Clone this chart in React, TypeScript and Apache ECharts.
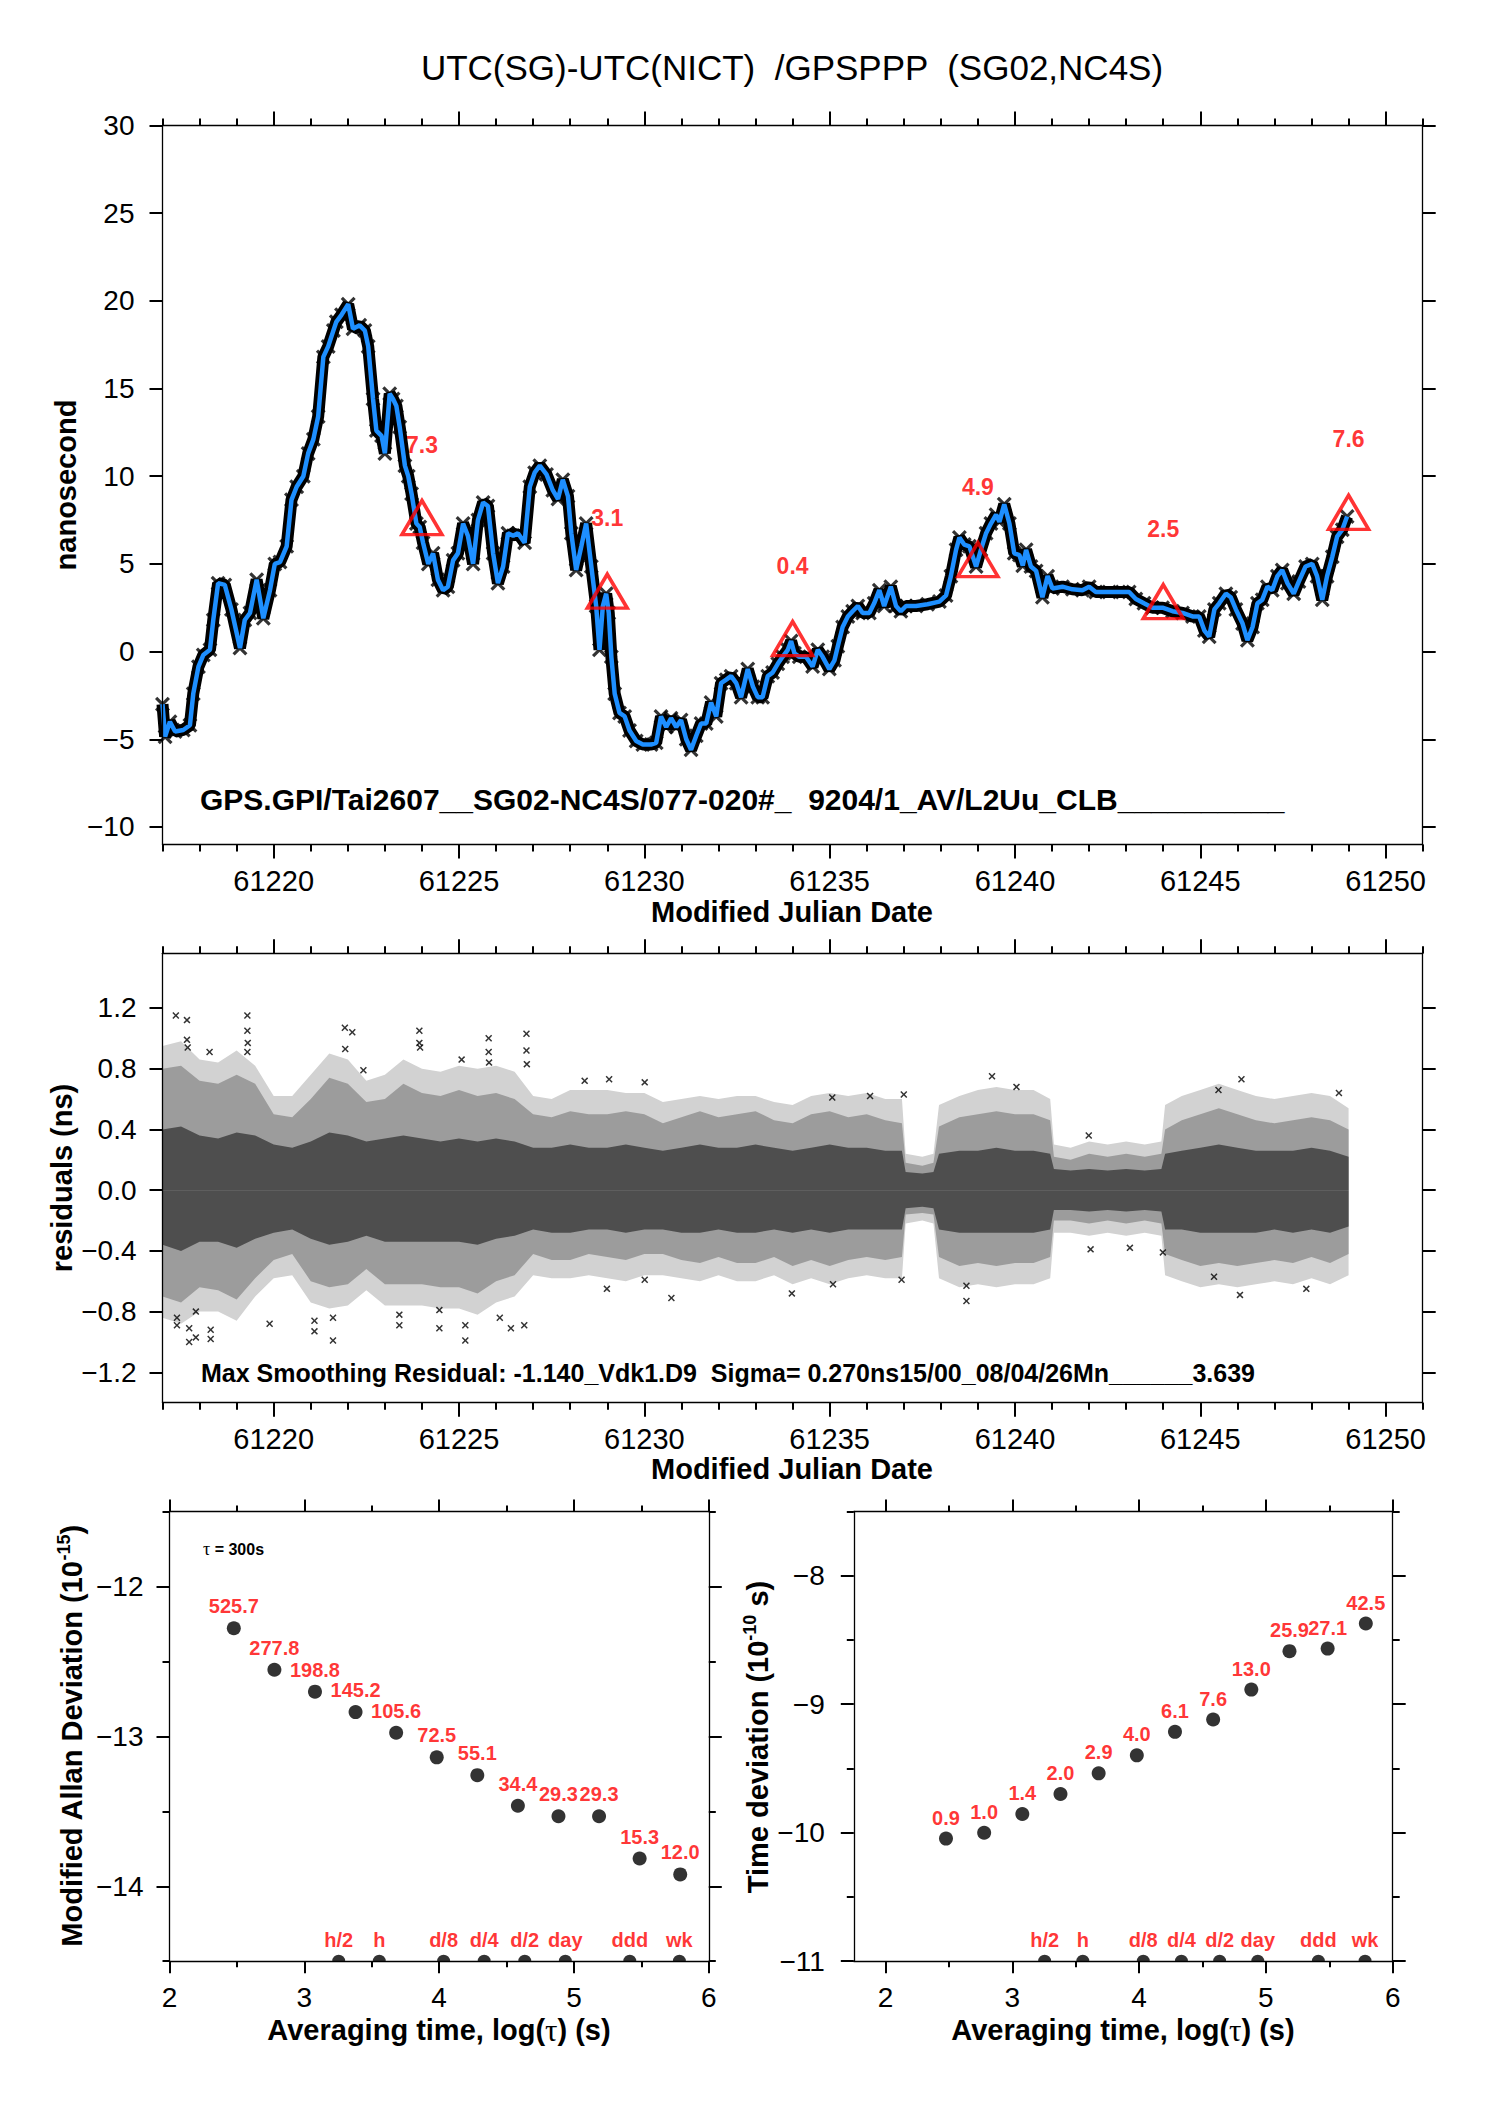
import React, { useEffect, useRef } from 'react';
import * as echarts from 'echarts';

const FONT = '"Liberation Sans", Arial, Helvetica, sans-serif';
const MINUS = '\u2212';
const RED = '#ff0000';
const BLUE = '#1e8fff';

// ---------- top panel: smoothed UTC(SG)-UTC(NICT) curve ----------
const topDays = [
  61217.00, 61217.07, 61217.20, 61217.34, 61217.56, 61217.74, 61217.83, 61217.97, 61218.10, 61218.28,
  61218.37, 61218.50, 61218.68, 61218.86, 61219.09, 61219.22, 61219.36, 61219.54, 61219.72, 61219.90,
  61220.03, 61220.17, 61220.35, 61220.48, 61220.62, 61220.80, 61220.93, 61221.07, 61221.20, 61221.34,
  61221.47, 61221.61, 61221.69, 61221.83, 61222.01, 61222.14, 61222.32, 61222.46, 61222.55, 61222.68,
  61222.77, 61222.91, 61223.00, 61223.13, 61223.22, 61223.31, 61223.40, 61223.54, 61223.63, 61223.72,
  61223.85, 61223.94, 61224.03, 61224.17, 61224.30, 61224.43, 61224.57, 61224.70, 61224.84, 61224.97,
  61225.11, 61225.24, 61225.38, 61225.51, 61225.65, 61225.78, 61225.92, 61226.05, 61226.19, 61226.32,
  61226.46, 61226.59, 61226.77, 61226.91, 61227.04, 61227.18, 61227.36, 61227.53, 61227.67, 61227.80,
  61227.94, 61228.03, 61228.16, 61228.30, 61228.43, 61228.57, 61228.70, 61228.79, 61228.88, 61228.97,
  61229.04, 61229.11, 61229.20, 61229.33, 61229.47, 61229.60, 61229.78, 61229.96, 61230.18, 61230.32,
  61230.45, 61230.59, 61230.72, 61230.86, 61230.99, 61231.13, 61231.26, 61231.40, 61231.53, 61231.67,
  61231.80, 61231.94, 61232.07, 61232.21, 61232.34, 61232.48, 61232.61, 61232.79, 61232.93, 61233.06,
  61233.19, 61233.33, 61233.46, 61233.60, 61233.73, 61233.87, 61233.96, 61234.05, 61234.18, 61234.36,
  61234.54, 61234.68, 61234.81, 61234.99, 61235.13, 61235.22, 61235.35, 61235.49, 61235.62, 61235.76,
  61235.89, 61236.07, 61236.20, 61236.34, 61236.47, 61236.65, 61236.79, 61236.92, 61237.06, 61237.33,
  61237.64, 61237.96, 61238.14, 61238.27, 61238.41, 61238.50, 61238.63, 61238.77, 61238.95, 61239.08,
  61239.22, 61239.35, 61239.49, 61239.58, 61239.71, 61239.85, 61239.98, 61240.12, 61240.21, 61240.30,
  61240.43, 61240.57, 61240.74, 61240.88, 61241.01, 61241.28, 61241.55, 61241.82, 61242.00, 61242.18,
  61242.54, 61242.90, 61243.08, 61243.26, 61243.48, 61243.71, 61243.98, 61244.25, 61244.52, 61244.79,
  61244.97, 61245.11, 61245.24, 61245.38, 61245.51, 61245.69, 61245.82, 61245.96, 61246.14, 61246.27,
  61246.41, 61246.54, 61246.67, 61246.81, 61246.94, 61247.08, 61247.21, 61247.35, 61247.52, 61247.66,
  61247.84, 61248.02, 61248.15, 61248.29, 61248.42, 61248.56, 61248.69, 61248.83, 61248.96,
];
const topVals = [
  -3.0, -4.85, -4.0, -4.56, -4.47, -4.2, -2.4, -0.86, -0.2, 0.1,
  1.8, 3.9, 3.8, 2.4, 0.2, 1.8, 2.2, 4.1, 1.9, 3.5,
  5.0, 5.1, 6.0, 8.65, 9.4, 10.0, 11.3, 12.1, 13.4, 16.8,
  17.4, 18.3, 18.8, 19.2, 19.8, 18.4, 18.6, 18.3, 17.4, 14.4,
  12.6, 12.3, 11.3, 14.7, 14.4, 14.0, 12.8, 10.6, 10.0, 9.0,
  7.3, 7.1, 6.2, 5.0, 5.6, 4.1, 3.5, 3.7, 5.2, 5.6,
  7.3, 6.6, 5.0, 7.5, 8.5, 8.3, 5.6, 3.9, 4.85, 6.75,
  6.6, 6.75, 6.2, 9.4, 10.2, 10.6, 10.1, 9.2, 8.7, 9.8,
  8.85, 6.75, 4.65, 6.0, 7.3, 4.85, 2.6, 0.1, 2.6, 3.3,
  2.2, -0.3, -2.4, -3.5, -3.7, -4.5, -5.1, -5.3, -5.3, -5.2,
  -3.7, -4.3, -3.8, -4.3, -3.9, -5.0, -5.6, -4.8, -4.1, -4.1,
  -2.9, -3.7, -1.8, -1.6, -1.4, -1.8, -2.6, -1.0, -2.0, -2.6,
  -2.6, -1.4, -1.2, -0.7, -0.3, 0.1, 0.6, -0.1, -0.3, -0.3,
  -0.85, 0.1, -0.3, -1.0, -0.5, 0.3, 1.4, 2.0, 2.3, 2.6,
  2.2, 2.2, 2.75, 3.5, 2.6, 3.7, 2.6, 2.3, 2.6, 2.6,
  2.7, 2.85, 3.2, 4.3, 5.8, 6.5, 6.1, 6.0, 4.85, 5.8,
  6.75, 7.3, 7.8, 7.4, 8.4, 7.3, 5.6, 5.5, 4.9, 5.8,
  4.85, 4.6, 3.1, 4.3, 3.6, 3.7, 3.55, 3.5, 3.7, 3.4,
  3.4, 3.4, 3.4, 3.0, 2.75, 2.5, 2.5, 2.3, 2.2, 2.0,
  2.0, 1.2, 0.85, 2.4, 2.75, 3.3, 3.1, 2.4, 1.6, 0.65,
  1.4, 2.75, 2.95, 3.7, 3.5, 4.3, 4.65, 3.9, 3.3, 4.0,
  4.85, 5.0, 4.3, 2.95, 4.3, 5.4, 6.55, 6.95, 7.7,
];
const triDays = [61224, 61229, 61234, 61239, 61244, 61249];
const triVals = [7.3, 3.1, 0.4, 4.9, 2.5, 7.6];

// ---------- residual panel: envelopes of the residual cloud ----------
const resDays = [
  61217.0, 61217.5, 61218.0, 61218.5, 61219.0, 61219.5, 61220.0, 61220.5, 61221.0, 61221.5,
  61222.0, 61222.5, 61223.0, 61223.5, 61224.0, 61224.5, 61225.0, 61225.5, 61226.0, 61226.5,
  61227.0, 61227.5, 61228.0, 61228.5, 61229.0, 61229.5, 61230.0, 61230.5, 61231.0, 61231.5,
  61232.0, 61232.5, 61233.0, 61233.5, 61234.0, 61234.5, 61235.0, 61235.5, 61236.0, 61236.5,
  61236.95, 61237.05, 61237.5, 61237.8, 61237.95, 61238.5, 61239.0, 61239.5, 61240.0, 61240.5,
  61240.95, 61241.05, 61241.5, 61242.0, 61242.5, 61243.0, 61243.5, 61243.95, 61244.05, 61244.5,
  61245.0, 61245.5, 61246.0, 61246.5, 61247.0, 61247.5, 61248.0, 61248.5, 61249.0,
];
const resFringeHi = [
  0.95, 0.98, 0.86, 0.84, 0.92, 0.82, 0.62, 0.62, 0.76, 0.90,
  0.86, 0.72, 0.76, 0.86, 0.80, 0.78, 0.82, 0.80, 0.82, 0.78,
  0.62, 0.60, 0.66, 0.66, 0.66, 0.64, 0.64, 0.58, 0.60, 0.62,
  0.60, 0.62, 0.62, 0.58, 0.56, 0.62, 0.64, 0.62, 0.64, 0.60,
  0.60, 0.24, 0.22, 0.24, 0.56, 0.62, 0.66, 0.68, 0.66, 0.66,
  0.60, 0.30, 0.28, 0.32, 0.30, 0.32, 0.30, 0.32, 0.56, 0.62,
  0.66, 0.70, 0.66, 0.62, 0.60, 0.62, 0.64, 0.62, 0.54,
];
const resFringeLo = [
  -0.84, -0.88, -0.80, -0.80, -0.86, -0.70, -0.58, -0.56, -0.74, -0.78,
  -0.76, -0.66, -0.76, -0.76, -0.76, -0.78, -0.78, -0.82, -0.74, -0.70,
  -0.56, -0.58, -0.58, -0.56, -0.58, -0.60, -0.56, -0.56, -0.58, -0.60,
  -0.56, -0.60, -0.60, -0.56, -0.62, -0.58, -0.62, -0.58, -0.56, -0.58,
  -0.58, -0.22, -0.20, -0.22, -0.58, -0.64, -0.62, -0.64, -0.62, -0.62,
  -0.58, -0.28, -0.28, -0.30, -0.28, -0.30, -0.28, -0.30, -0.56, -0.60,
  -0.64, -0.62, -0.64, -0.62, -0.60, -0.62, -0.58, -0.62, -0.56,
];
const resOuterHi = [
  0.80, 0.82, 0.72, 0.70, 0.76, 0.70, 0.50, 0.48, 0.60, 0.74,
  0.70, 0.58, 0.60, 0.70, 0.64, 0.62, 0.66, 0.62, 0.64, 0.60,
  0.50, 0.48, 0.52, 0.50, 0.50, 0.52, 0.50, 0.44, 0.48, 0.52,
  0.48, 0.50, 0.52, 0.46, 0.44, 0.50, 0.52, 0.48, 0.50, 0.46,
  0.44, 0.18, 0.16, 0.18, 0.42, 0.48, 0.50, 0.52, 0.50, 0.50,
  0.46, 0.22, 0.20, 0.24, 0.22, 0.24, 0.22, 0.24, 0.40, 0.46,
  0.50, 0.54, 0.50, 0.46, 0.44, 0.46, 0.48, 0.46, 0.40,
];
const resOuterLo = [
  -0.70, -0.74, -0.64, -0.66, -0.72, -0.58, -0.46, -0.42, -0.60, -0.64,
  -0.62, -0.52, -0.62, -0.62, -0.62, -0.64, -0.64, -0.68, -0.60, -0.56,
  -0.42, -0.46, -0.46, -0.42, -0.44, -0.46, -0.42, -0.42, -0.46, -0.48,
  -0.44, -0.48, -0.48, -0.44, -0.50, -0.46, -0.50, -0.46, -0.44, -0.46,
  -0.44, -0.16, -0.15, -0.16, -0.44, -0.50, -0.48, -0.50, -0.48, -0.48,
  -0.44, -0.20, -0.20, -0.22, -0.20, -0.22, -0.20, -0.22, -0.42, -0.46,
  -0.50, -0.48, -0.50, -0.48, -0.46, -0.48, -0.44, -0.48, -0.42,
];
const resCoreHi = [
  0.40, 0.42, 0.36, 0.34, 0.38, 0.36, 0.30, 0.28, 0.32, 0.38,
  0.36, 0.32, 0.34, 0.36, 0.34, 0.32, 0.34, 0.32, 0.34, 0.32,
  0.28, 0.28, 0.30, 0.28, 0.28, 0.30, 0.28, 0.26, 0.28, 0.30,
  0.28, 0.28, 0.30, 0.28, 0.26, 0.28, 0.30, 0.28, 0.28, 0.26,
  0.26, 0.12, 0.11, 0.12, 0.24, 0.26, 0.26, 0.28, 0.26, 0.26,
  0.24, 0.14, 0.13, 0.14, 0.13, 0.14, 0.13, 0.14, 0.24, 0.26,
  0.28, 0.30, 0.28, 0.26, 0.26, 0.26, 0.28, 0.26, 0.22,
];
const resCoreLo = [
  -0.36, -0.40, -0.34, -0.34, -0.38, -0.32, -0.28, -0.26, -0.32, -0.36,
  -0.34, -0.30, -0.34, -0.34, -0.34, -0.34, -0.34, -0.36, -0.32, -0.30,
  -0.26, -0.28, -0.28, -0.26, -0.26, -0.28, -0.26, -0.26, -0.28, -0.28,
  -0.26, -0.28, -0.28, -0.26, -0.28, -0.26, -0.28, -0.26, -0.26, -0.26,
  -0.26, -0.12, -0.11, -0.12, -0.26, -0.28, -0.28, -0.28, -0.28, -0.28,
  -0.26, -0.13, -0.13, -0.14, -0.13, -0.14, -0.13, -0.14, -0.26, -0.26,
  -0.28, -0.28, -0.28, -0.28, -0.26, -0.28, -0.26, -0.28, -0.24,
];
const resOutDays = [
  61217.36, 61217.66, 61217.66, 61217.68, 61218.27, 61219.29, 61219.29, 61219.30, 61219.29, 61221.92,
  61222.12, 61221.93, 61223.93, 61223.93, 61223.95, 61225.80, 61225.80, 61225.81, 61226.82, 61226.82,
  61226.83, 61225.07, 61222.42, 61229.05, 61228.39, 61230.01,
  61217.39, 61217.39, 61217.72, 61217.72, 61217.90, 61217.90, 61218.30, 61218.30, 61219.89, 61221.10,
  61221.10, 61221.60, 61221.60, 61223.39, 61223.39, 61224.47, 61224.47, 61225.17, 61225.17, 61226.10,
  61226.40, 61226.76, 61230.73, 61230.01, 61228.99,
  61239.38, 61240.04, 61246.11, 61245.49, 61248.74, 61237.00, 61235.07, 61236.09, 61233.98, 61238.69,
  61238.69, 61246.07, 61247.86, 61235.09, 61236.94, 61242.04, 61243.10, 61243.99, 61241.99, 61245.37,
];
const resOutVals = [
  1.15, 1.12, 0.99, 0.94, 0.91, 1.15, 1.05, 0.97, 0.91, 1.07,
  1.04, 0.93, 1.05, 0.97, 0.94, 1.00, 0.91, 0.84, 1.03, 0.92,
  0.83, 0.86, 0.79, 0.73, 0.72, 0.71,
  -0.84, -0.89, -0.91, -1.00, -0.97, -0.80, -0.92, -0.98, -0.88, -0.86,
  -0.93, -0.84, -0.99, -0.82, -0.89, -0.79, -0.91, -0.89, -0.99, -0.84,
  -0.91, -0.89, -0.71, -0.59, -0.65,
  0.75, 0.68, 0.73, 0.66, 0.64, 0.63, 0.61, 0.62, -0.68, -0.73,
  -0.63, -0.69, -0.65, -0.62, -0.59, -0.39, -0.38, -0.41, 0.36, -0.57,
];

// ---------- tick values ----------
const mjdMajor = [61220, 61225, 61230, 61235, 61240, 61245, 61250];
const mjdMinor = [
  61217, 61218, 61219, 61220, 61221, 61222, 61223, 61224, 61225, 61226, 61227, 61228,
  61229, 61230, 61231, 61232, 61233, 61234, 61235, 61236, 61237, 61238, 61239, 61240,
  61241, 61242, 61243, 61244, 61245, 61246, 61247, 61248, 61249, 61250, 61251,
];
const nsTicks = [-10, -5, 0, 5, 10, 15, 20, 25, 30];
const resTicks = [-1.2, -0.8, -0.4, 0, 0.4, 0.8, 1.2];
const logMajor = [2, 3, 4, 5, 6];
const logMinor = [2.5, 3.5, 4.5, 5.5];
const mdevMajor = [-14, -13, -12];
const mdevMinor = [-14.5, -13.5, -12.5, -11.5];
const tdevMajor = [-11, -10, -9, -8];
const tdevMinor = [-10.5, -9.5, -8.5, -7.5];

// ---------- stability panels ----------
const logTau = [2.477, 2.778, 3.079, 3.380, 3.681, 3.982, 4.283, 4.584, 4.885, 5.186, 5.487, 5.788];
const mdevVals = [-12.279, -12.556, -12.702, -12.838, -12.976, -13.140, -13.259, -13.463, -13.533, -13.533, -13.815, -13.921];
const mdevLabels = ['525.7', '277.8', '198.8', '145.2', '105.6', '72.5', '55.1', '34.4', '29.3', '29.3', '15.3', '12.0'];
const tdevVals = [-10.046, -10.0, -9.854, -9.699, -9.538, -9.398, -9.215, -9.119, -8.886, -8.587, -8.567, -8.372];
const tdevLabels = ['0.9', '1.0', '1.4', '2.0', '2.9', '4.0', '6.1', '7.6', '13.0', '25.9', '27.1', '42.5'];
const markLogTau = [3.255, 3.556, 4.033, 4.334, 4.635, 4.936, 5.414, 5.782];
const markLabels = ['h/2', 'h', 'd/8', 'd/4', 'd/2', 'day', 'ddd', 'wk'];

const XSYM = 'path://M0,1.5L1.5,0L5,3.5L8.5,0L10,1.5L6.5,5L10,8.5L8.5,10L5,6.5L1.5,10L0,8.5L3.5,5Z';
const HALF = 'path://M0,10A10,10,0,0,1,20,10Z';

const fmtInt = (v: number) => (v < 0 ? MINUS + Math.abs(v) : String(v));
const fmtRes = (v: number) => {
  const a = Math.abs(v).toFixed(1);
  return v < -1e-9 ? MINUS + a : a;
};
const fmtMjd = (v: number) => String(Math.round(v));

function makeAxes(dim: 'x' | 'y', gridIndex: number, min: number, max: number, majors: number[], minors: number[],
  fmt: (v: number) => string, majLen: number, minLen: number, labelSize: number, margin: number) {
  const posMain = dim === 'x' ? 'bottom' : 'left';
  const posOpp = dim === 'x' ? 'top' : 'right';
  const base = {
    type: 'value', gridIndex, min, max, scale: false,
    splitLine: { show: false }, minorTick: { show: false }, minorSplitLine: { show: false },
    axisPointer: { show: false }, silent: true, z: 5,
  };
  const line = (show: boolean) => ({ show, onZero: false, lineStyle: { color: '#000', width: 1.3 } });
  const tick = (vals: number[], len: number) => ({
    show: vals.length > 0, inside: false, length: len, customValues: vals,
    lineStyle: { color: '#000', width: 2 },
  });
  return [
    {
      ...base, position: posMain, axisLine: line(true), axisTick: tick(majors, majLen),
      axisLabel: { show: true, customValues: majors, formatter: fmt, color: '#000', fontSize: labelSize, fontFamily: FONT, margin },
    },
    { ...base, position: posMain, axisLine: line(false), axisTick: tick(minors, minLen), axisLabel: { show: false } },
    { ...base, position: posOpp, axisLine: line(true), axisTick: tick(majors, majLen), axisLabel: { show: false } },
    { ...base, position: posOpp, axisLine: line(false), axisTick: tick(minors, minLen), axisLabel: { show: false } },
  ];
}

function txt(x: number, y: number, text: string, size: number, bold: boolean, align = 'center', rotation = 0, rich?: any) {
  return {
    type: 'text', x, y, rotation, silent: true, z: 100,
    style: {
      text, fontSize: size, fontWeight: bold ? 'bold' : 'normal', fontFamily: FONT, fill: '#000',
      textAlign: align, textVerticalAlign: 'middle', align, verticalAlign: 'middle', rich,
    },
  };
}

function buildOption() {
  const topData = topDays.map((d, i) => [d, topVals[i]]);
  const triData = triDays.map((d, i) => [d, triVals[i]]);
  const band = (vals: number[]) => resDays.map((d, i) => [d, vals[i]]);
  const areaSeries = (vals: number[], color: string, z: number) => ({
    type: 'line', xAxisIndex: 4, yAxisIndex: 4, data: band(vals), symbol: 'none', silent: true, z,
    lineStyle: { width: 0, opacity: 0 }, areaStyle: { color, opacity: 1, origin: 'auto' },
  });
  const labelOnly = (xi: number, data: number[][], labels: string[], dy: number, size: number) => ({
    type: 'scatter', xAxisIndex: xi, yAxisIndex: xi, data, symbolSize: 1, silent: true, z: 20,
    itemStyle: { color: 'rgba(0,0,0,0)' },
    label: {
      show: true, position: 'inside', offset: [0, dy], formatter: (p: any) => labels[p.dataIndex],
      fontSize: size, fontWeight: 'bold', color: RED, fontFamily: FONT,
    },
  });

  const mdevData = logTau.map((x, i) => [x, mdevVals[i]]);
  const tdevData = logTau.map((x, i) => [x, tdevVals[i]]);
  const markMdev = markLogTau.map((x) => [x, -14.5]);
  const markTdev = markLogTau.map((x) => [x, -11]);

  const richY = (main: string, sup: string, tail: string) =>
    `{a|${main}}{s|${sup}}{a|${tail}}`;
  const richYStyle = {
    a: { fontSize: 29, fontWeight: 'bold', fontFamily: FONT, fill: '#000', lineHeight: 34 },
    s: { fontSize: 18, fontWeight: 'bold', fontFamily: FONT, fill: '#000', lineHeight: 16, verticalAlign: 'top' },
  };
  const richX = {
    a: { fontSize: 29, fontWeight: 'bold', fontFamily: FONT, fill: '#000' },
    t: { fontSize: 31, fontWeight: 'normal', fontFamily: '"Liberation Serif", "DejaVu Serif", serif', fill: '#000' },
  };

  return {
    animation: false,
    backgroundColor: '#ffffff',
    textStyle: { fontFamily: FONT },
    grid: [
      { left: 162.5, top: 125.4, width: 1260.2, height: 719.1 },
      { left: 162.5, top: 953.3, width: 1260.2, height: 449.4 },
      { left: 169.5, top: 1511.5, width: 539.3, height: 449.7 },
      { left: 853.8, top: 1511.5, width: 538.9, height: 449.7 },
    ],
    xAxis: [
      ...makeAxes('x', 0, 61217, 61251, mjdMajor, mjdMinor, fmtMjd, 14, 7, 29, 22),
      ...makeAxes('x', 1, 61217, 61251, mjdMajor, mjdMinor, fmtMjd, 14, 7, 29, 22),
      ...makeAxes('x', 2, 2, 6, logMajor, logMinor, fmtInt, 12, 6, 28, 22),
      ...makeAxes('x', 3, 1.75, 6, logMajor, logMinor, fmtInt, 12, 6, 28, 22),
    ],
    yAxis: [
      ...makeAxes('y', 0, -11, 30, nsTicks, [], fmtInt, 13, 0, 28, 28),
      ...makeAxes('y', 1, -1.4, 1.56, resTicks, [], fmtRes, 13, 0, 28, 26),
      ...makeAxes('y', 2, -14.5, -11.5, mdevMajor, mdevMinor, fmtInt, 13, 7, 28, 26),
      ...makeAxes('y', 3, -11, -7.5, tdevMajor, tdevMinor, fmtInt, 13, 7, 28, 29),
    ],
    graphic: [
      txt(792, 67, 'UTC(SG)-UTC(NICT)  /GPSPPP  (SG02,NC4S)', 35, false),
      txt(200, 799, 'GPS.GPI/Tai2607__SG02-NC4S/077-020#_  9204/1_AV/L2Uu_CLB__________', 30, true, 'left'),
      txt(792, 912, 'Modified Julian Date', 29, true),
      txt(66, 485, 'nanosecond', 29, true, 'center', Math.PI / 2),
      txt(201, 1373, 'Max Smoothing Residual: -1.140_Vdk1.D9  Sigma= 0.270ns15/00_08/04/26Mn______3.639', 25, true, 'left'),
      txt(792, 1469, 'Modified Julian Date', 29, true),
      txt(62, 1178, 'residuals (ns)', 29, true, 'center', Math.PI / 2),
      txt(72, 1736, richY('Modified Allan Deviation (10', '-15', ')'), 29, true, 'center', Math.PI / 2, richYStyle),
      txt(758, 1737, richY('Time deviation (10', '-10', ' s)'), 29, true, 'center', Math.PI / 2, richYStyle),
      txt(439, 2030, '{a|Averaging time, log(}{t|τ}{a|) (s)}', 29, true, 'center', 0, richX),
      txt(1123, 2030, '{a|Averaging time, log(}{t|τ}{a|) (s)}', 29, true, 'center', 0, richX),
      txt(203, 1549, '{t|τ}{a| = 300s}', 16, true, 'left', 0, {
        a: { fontSize: 16, fontWeight: 'bold', fontFamily: FONT, fill: '#000' },
        t: { fontSize: 18, fontWeight: 'normal', fontFamily: '"Liberation Serif", serif', fill: '#000' },
      }),
    ],
    series: [
      // top panel
      {
        type: 'line', xAxisIndex: 0, yAxisIndex: 0, data: topData, symbol: 'none', silent: true, z: 1,
        lineStyle: { color: '#000', width: 12 },
      },
      {
        type: 'scatter', xAxisIndex: 0, yAxisIndex: 0, data: topData, symbol: XSYM, symbolSize: 15, silent: true, z: 2,
        itemStyle: { color: '#000' },
      },
      {
        type: 'line', xAxisIndex: 0, yAxisIndex: 0, data: topData, symbol: 'none', silent: true, z: 3,
        lineStyle: { color: BLUE, width: 4.5 },
      },
      {
        type: 'scatter', xAxisIndex: 0, yAxisIndex: 0, data: triData, symbol: 'triangle', symbolSize: [40, 34],
        symbolOffset: [0, -6], silent: true, z: 4,
        itemStyle: { color: 'rgba(0,0,0,0)', borderColor: RED, borderWidth: 3.5 },
      },
      labelOnly(0, triData, triVals.map((v) => v.toFixed(1)), -79, 23),
      // residual panel
      areaSeries(resFringeHi, '#d2d2d2', 1),
      areaSeries(resFringeLo, '#d2d2d2', 1),
      areaSeries(resOuterHi, '#9c9c9c', 2),
      areaSeries(resOuterLo, '#9c9c9c', 2),
      areaSeries(resCoreHi, '#4e4e4e', 3),
      areaSeries(resCoreLo, '#4e4e4e', 3),
      {
        type: 'scatter', xAxisIndex: 4, yAxisIndex: 4, data: resOutDays.map((d, i) => [d, resOutVals[i]]),
        symbol: XSYM, symbolSize: 7, silent: true, z: 4, itemStyle: { color: '#000' },
      },
      // modified Allan deviation
      {
        type: 'scatter', xAxisIndex: 8, yAxisIndex: 8, data: mdevData, symbolSize: 14, silent: true, z: 10,
        itemStyle: { color: '#000' },
      },
      labelOnly(8, mdevData, mdevLabels, -22, 20),
      {
        type: 'scatter', xAxisIndex: 8, yAxisIndex: 8, data: markMdev, symbol: HALF, symbolSize: [13, 6.5],
        symbolOffset: [0, -3.25], silent: true, z: 10, itemStyle: { color: '#000' },
      },
      labelOnly(8, markMdev, markLabels, -21, 20),
      // time deviation
      {
        type: 'scatter', xAxisIndex: 12, yAxisIndex: 12, data: tdevData, symbolSize: 14, silent: true, z: 10,
        itemStyle: { color: '#000' },
      },
      labelOnly(12, tdevData, tdevLabels, -21, 20),
      {
        type: 'scatter', xAxisIndex: 12, yAxisIndex: 12, data: markTdev, symbol: HALF, symbolSize: [13, 6.5],
        symbolOffset: [0, -3.25], silent: true, z: 10, itemStyle: { color: '#000' },
      },
      labelOnly(12, markTdev, markLabels, -21, 20),
    ],
  };
}

export default function App() {
  const ref = useRef<HTMLDivElement>(null);
  useEffect(() => {
    if (!ref.current) return;
    const chart = echarts.init(ref.current, null, { renderer: 'svg', width: 1488, height: 2105 });
    chart.setOption(buildOption() as any);
    return () => chart.dispose();
  }, []);
  return (
    <div
      ref={ref}
      style={{ position: 'absolute', left: 0, top: 0, width: 1488, height: 2105, background: '#fff' }}
    />
  );
}
